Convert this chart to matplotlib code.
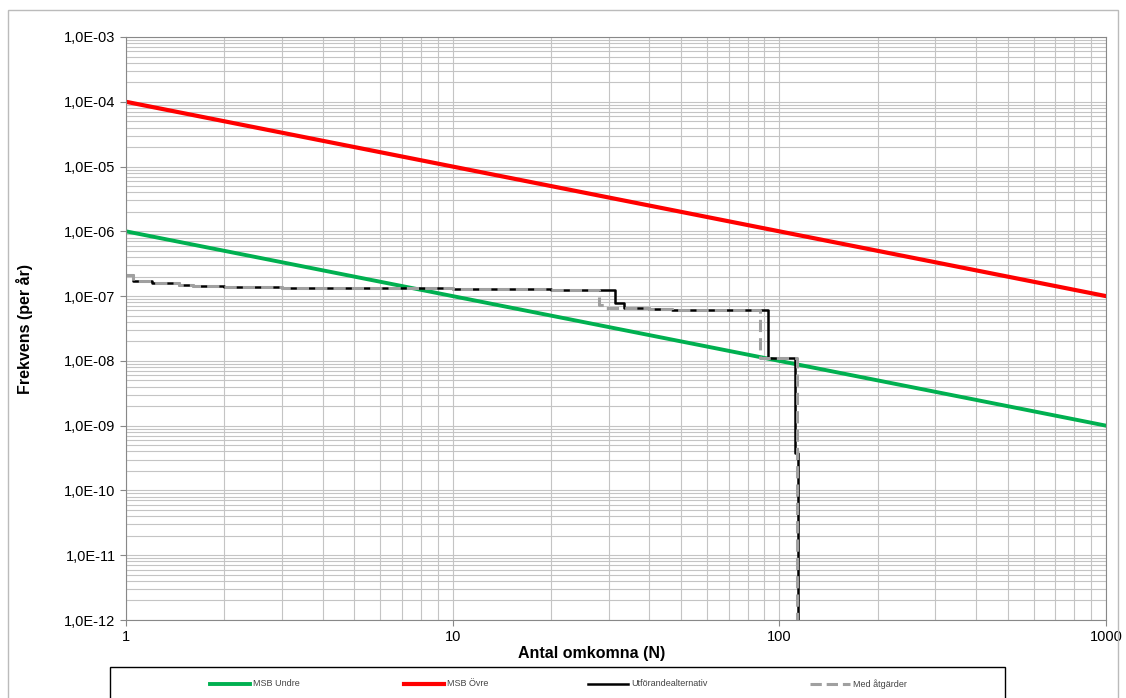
import matplotlib.pyplot as plt
from matplotlib.lines import Line2D
from matplotlib.patches import Rectangle
from matplotlib.ticker import FixedLocator, NullFormatter

plt.rcParams['font.family'] = ['Liberation Sans Narrow', 'Liberation Sans', 'DejaVu Sans']

# MSB criteria lines
msb_n = [1, 1000]
msb_undre = [1e-6, 1e-9]
msb_ovre = [1e-4, 1e-7]

# Utförandealternativ (step curve)
utf_n = [1, 1.05, 1.2, 1.45, 1.6, 2, 3, 5, 10, 20, 31.5, 33.5, 40, 47, 92, 112, 114, 114.01]
utf_f = [2.1e-7, 1.7e-7, 1.6e-7, 1.5e-7, 1.45e-7, 1.4e-7, 1.35e-7, 1.32e-7, 1.3e-7,
         1.25e-7, 7.8e-8, 6.5e-8, 6.3e-8, 6.0e-8, 1.1e-8, 3.8e-10, 1e-13, 1e-13]

# Med åtgärder (step curve)
med_n = [1, 1.05, 1.2, 1.45, 1.6, 2, 3, 5, 10, 20, 28, 29.5, 40, 47, 87, 113, 113.01]
med_f = [2.1e-7, 1.7e-7, 1.6e-7, 1.5e-7, 1.45e-7, 1.4e-7, 1.35e-7, 1.32e-7, 1.3e-7,
         1.25e-7, 7.3e-8, 6.5e-8, 6.3e-8, 6.0e-8, 1.1e-8, 1e-13, 1e-13]

x_ticks = [1, 10, 100, 1000]
y_ticks = [1e-12, 1e-11, 1e-10, 1e-9, 1e-8, 1e-7, 1e-6, 1e-5, 1e-4, 1e-3]
y_labels = ["1,0E-12", "1,0E-11", "1,0E-10", "1,0E-09", "1,0E-08",
            "1,0E-07", "1,0E-06", "1,0E-05", "1,0E-04", "1,0E-03"]

W, H = 1126, 698
fig = plt.figure(figsize=(W / 100, H / 100), dpi=100)
ax = fig.add_axes([126 / W, 1 - 620 / H, (1106 - 126) / W, (620 - 37) / H])

ax.set_xscale("log")
ax.set_yscale("log")
ax.set_xlim(1, 1000)
ax.set_ylim(1e-12, 1e-3)

# grid on every minor position
minors = [m * 10 ** e for e in range(-13, 4) for m in range(1, 10)]
ax.xaxis.set_minor_locator(FixedLocator(minors))
ax.yaxis.set_minor_locator(FixedLocator(minors))
ax.xaxis.set_minor_formatter(NullFormatter())
ax.yaxis.set_minor_formatter(NullFormatter())
ax.grid(True, which="both", color="#c4c4c4", lw=0.8)
ax.set_axisbelow(True)
ax.tick_params(which="minor", length=0)
ax.tick_params(which="major", length=4, color="#888888", labelsize=10.5)

ax.set_xticks(x_ticks)
ax.set_xticklabels([str(v) for v in x_ticks])
ax.set_yticks(y_ticks)
ax.set_yticklabels(y_labels)
for s in ax.spines.values():
    s.set_color("#888888")
    s.set_linewidth(0.8)

ax.plot(msb_n, msb_undre, color="#00b050", lw=2.8, label="MSB Undre")
ax.plot(msb_n, msb_ovre, color="#ff0000", lw=3.0, label="MSB Övre")
ax.plot(utf_n, utf_f, color="black", lw=1.8, drawstyle="steps-post",
        label="Utförandealternativ")
ax.plot(med_n, med_f, color="#a0a0a0", lw=2.2, ls=(0, (4, 2)), drawstyle="steps-post",
        label="Med åtgärder")

ax.set_xlabel("Antal omkomna (N)", fontsize=11.5, fontweight="bold")
ax.xaxis.set_label_coords((592 - 126) / (1106 - 126), -0.045)
ax.set_ylabel("Frekvens (per år)", fontsize=11.5, fontweight="bold")
ax.yaxis.set_label_coords(-(126 - 33) / (1106 - 126), 0.5)

# outer chart border
fig.add_artist(Rectangle((8 / W, -0.1), (1118 - 8) / W, 1.1 - 10 / H,
                         transform=fig.transFigure, fill=False,
                         edgecolor="#bbbbbb", lw=1))

# legend box (cut off at bottom like the reference)
fig.add_artist(Rectangle((110 / W, -0.1), (1005 - 110) / W, 0.1 + 1 - 667 / H,
                         transform=fig.transFigure, fill=False,
                         edgecolor="black", lw=1))
handles = ax.get_lines()
starts = [210, 404, 588, 810]
ly = 1 - 684 / H
for h, x0 in zip(handles, starts):
    fig.add_artist(Line2D([x0 / W, (x0 + 40) / W], [ly, ly], transform=fig.transFigure,
                          color=h.get_color(), lw=h.get_linewidth(), ls=h.get_linestyle()))
    fig.text((x0 + 43) / W, ly, h.get_label(), fontsize=6.5, va="center",
             ha="left", color="#444444")

fig.savefig("out.png", dpi=100)
